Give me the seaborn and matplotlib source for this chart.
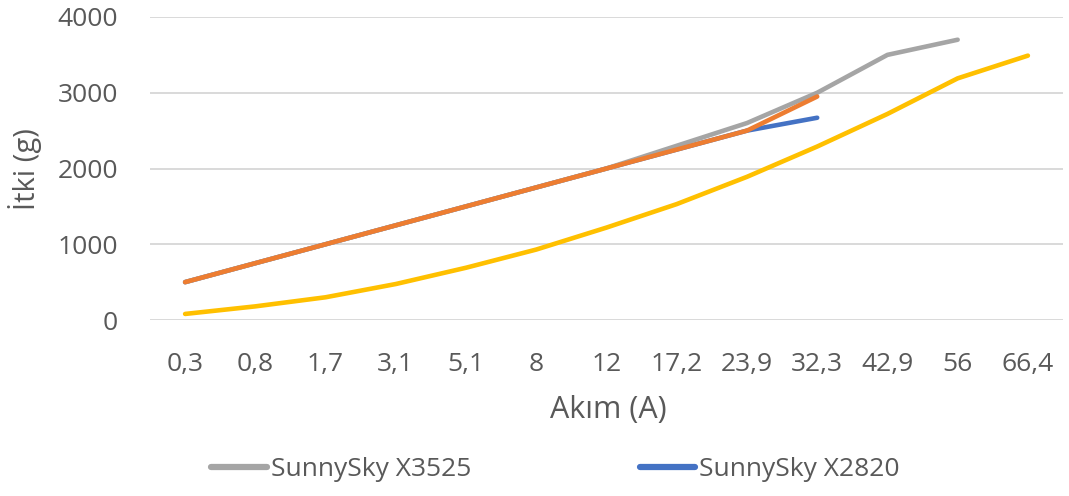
import numpy as np
import matplotlib
matplotlib.use("Agg")
import matplotlib.pyplot as plt
from matplotlib.lines import Line2D
import seaborn as sns

# Current (A) categories on the x axis
categories = ["0,3", "0,8", "1,7", "3,1", "5,1", "8", "12", "17,2", "23,9", "32,3", "42,9", "56", "66,4"]

# Thrust (g) per motor
x2820 = [500, 750, 1000, 1250, 1500, 1750, 2000, 2250, 2500, 2670]
x3525 = [500, 750, 1000, 1250, 1500, 1750, 2000, 2300, 2600, 3000, 3500, 3700]
motor3 = [500, 750, 1000, 1250, 1500, 1750, 2000, 2250, 2500, 2950]
motor4 = [80, 180, 300, 475, 690, 930, 1220, 1530, 1890, 2290, 2720, 3190, 3490]

sns.set_theme(style="white")
plt.rcParams["font.family"] = ["Open Sans", "DejaVu Sans"]

text_color = "#595959"
fig = plt.figure(figsize=(10.69, 4.96), dpi=100)
ax = fig.add_axes([150 / 1069, 1 - 320 / 496, 913 / 1069, 303 / 496])

series = [
    ("SunnySky X2820", x2820, "#4472C4"),
    ("SunnySky X3525", x3525, "#A5A5A5"),
    ("Motor 3", motor3, "#ED7D31"),
    ("Motor 4", motor4, "#FFC000"),
]
for name, vals, col in series:
    sns.lineplot(x=np.arange(len(vals)), y=vals, ax=ax, color=col, linewidth=3.3,
                 solid_capstyle="round", solid_joinstyle="round", label=name, legend=False)

ax.set_xlim(-0.5, len(categories) - 0.5)
ax.set_ylim(0, 4000)
ax.set_yticks([0, 1000, 2000, 3000, 4000])
ax.set_xticks(np.arange(len(categories)))
ax.set_xticklabels(categories)
ax.yaxis.grid(True, color="#D9D9D9", linewidth=1.4)
ax.set_axisbelow(True)
for s in ax.spines.values():
    s.set_visible(False)
ax.tick_params(axis="both", length=0, labelsize=19, labelcolor=text_color)
ax.tick_params(axis="x", pad=23)
ax.tick_params(axis="y", pad=23)
ax.set_xlabel("")
ax.set_ylabel("")

fig.text(25 / 1069, 1 - 169 / 496, "İtki (g)", rotation=90, ha="center", va="center",
         fontsize=21, color=text_color)
fig.text(608 / 1069, 1 - 410 / 496, "Akım (A)", ha="center", va="center",
         fontsize=22, color=text_color)

handles = [Line2D([], [], color="#A5A5A5", linewidth=4.5),
           Line2D([], [], color="#4472C4", linewidth=4.5)]
fig.legend(handles, ["SunnySky X3525", "SunnySky X2820"], loc="center left",
           bbox_to_anchor=(198 / 1069, 1 - 470 / 496), ncol=2, frameon=False,
           fontsize=19, labelcolor=text_color, handlelength=2.1, handletextpad=0.15,
           columnspacing=6.4, borderpad=0)

fig.savefig("out.png", dpi=100)
